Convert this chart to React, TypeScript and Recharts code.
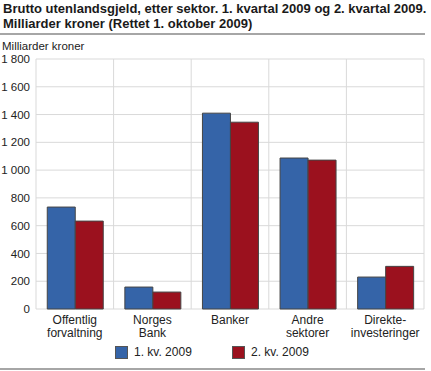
import { Bar, BarChart, CartesianGrid, XAxis, YAxis } from 'recharts'

const categories = [
  ['Offentlig', 'forvaltning'],
  ['Norges', 'Bank'],
  ['Banker'],
  ['Andre', 'sektorer'],
  ['Direkte-', 'investeringer'],
]
const q1_2009 = [734, 158, 1410, 1087, 230]
const q2_2009 = [633, 122, 1345, 1072, 307]
const yTicks = [0, 200, 400, 600, 800, 1000, 1200, 1400, 1600, 1800]
const seriesNames = ['1. kv. 2009', '2. kv. 2009']

const BLUE = '#3564a8'
const RED = '#9b111e'
const FONT = '"Liberation Sans", Arial, sans-serif'

const data = categories.map((c, i) => ({
  name: c.join(' '),
  q1: q1_2009[i],
  q2: q2_2009[i],
}))

// thousands separator as a non-breaking space so the tick does not wrap
const fmt = (v: number) => String(v).replace(/\B(?=(\d{3})+(?!\d))/g, '\u00a0')

function CatTick(props: any) {
  const { x, y, index } = props
  const lines = categories[index] || []
  return (
    <text x={x} y={y} textAnchor="middle" fontSize={12} fill="#222" fontFamily={FONT}>
      {lines.map((l, i) => (
        <tspan key={i} x={x} dy={i === 0 ? 7 : 13}>
          {l}
        </tspan>
      ))}
    </text>
  )
}

export default function App() {
  const colors = [BLUE, RED]
  const legendX = [115, 232]
  return (
    <div style={{ position: 'relative', width: 431, height: 371, fontFamily: FONT, color: '#222', background: '#fff' }}>
      <style>{`body{margin:0}`}</style>
      <div style={{ position: 'absolute', left: 3, top: 2, fontSize: 13, fontWeight: 'bold', lineHeight: '14.5px', whiteSpace: 'nowrap', color: '#1a1a1a' }}>
        Brutto utenlandsgjeld, etter sektor. 1. kvartal 2009 og 2. kvartal 2009.
        <br />
        Milliarder kroner (Rettet 1. oktober 2009)
      </div>
      <div style={{ position: 'absolute', left: 0, top: 33, width: 425, height: 2, background: '#a6a6a6' }} />
      <div style={{ position: 'absolute', left: 2, top: 40, fontSize: 11.5, lineHeight: '13px', whiteSpace: 'nowrap' }}>Milliarder kroner</div>
      <div style={{ position: 'absolute', left: 0, top: 0 }}>
        <BarChart
          width={431}
          height={371}
          data={data}
          margin={{ top: 59, right: 7, bottom: 22, left: 0 }}
          barCategoryGap="14.5%"
          barGap={0}
        >
          <CartesianGrid
            stroke="#d9d9d9"
            strokeWidth={1}
            verticalCoordinatesGenerator={({ offset }: any) =>
              categories.map((_, i) => offset.left + (i * offset.width) / categories.length).concat([offset.left + offset.width])
            }
          />
          <YAxis
            width={36}
            domain={[0, 1800]}
            ticks={yTicks}
            axisLine={false}
            tickLine={false}
            tickSize={0}
            tickMargin={6}
            tickFormatter={fmt}
            tick={{ fontSize: 11.5, fill: '#222', fontFamily: FONT }}
            interval={0}
          />
          <XAxis dataKey="name" height={40} axisLine={false} tickLine={false} tick={<CatTick />} interval={0} />
          <Bar dataKey="q1" fill={BLUE} stroke="#454545" strokeWidth={1} isAnimationActive={false} />
          <Bar dataKey="q2" fill={RED} stroke="#454545" strokeWidth={1} isAnimationActive={false} />
        </BarChart>
      </div>
      {seriesNames.map((n, i) => (
        <div key={n} style={{ position: 'absolute', left: legendX[i], top: 345, display: 'flex', alignItems: 'center', fontSize: 12, whiteSpace: 'nowrap' }}>
          <span style={{ display: 'inline-block', width: 13, height: 13, background: colors[i], border: '1px solid #555', boxSizing: 'border-box', marginRight: 6 }} />
          {n}
        </div>
      ))}
      <div style={{ position: 'absolute', left: 0, top: 368, width: 425, height: 2, background: '#a6a6a6' }} />
    </div>
  )
}
